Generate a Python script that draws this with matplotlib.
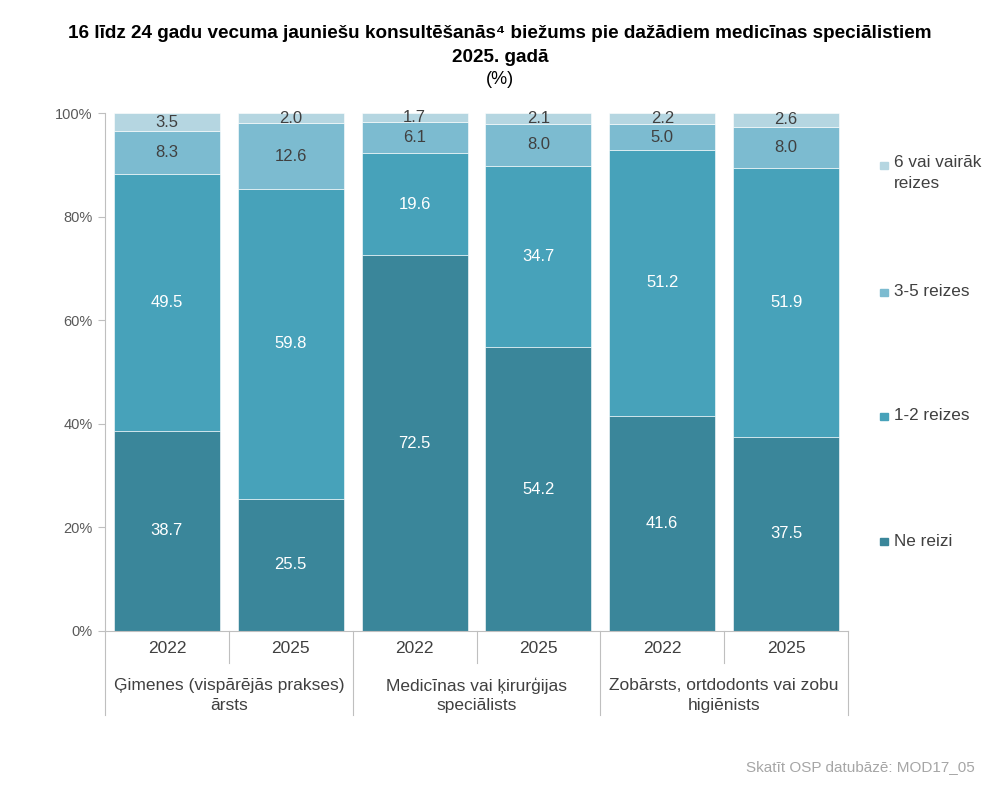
import matplotlib
matplotlib.use("Agg")
import numpy as np
import matplotlib.pyplot as plt
from matplotlib.lines import Line2D
from matplotlib.patches import Rectangle

plt.rcParams['font.family'] = ['Liberation Sans', 'DejaVu Sans']

# data
groups = ["Ģimenes (vispārējās prakses)\nārsts",
          "Medicīnas vai ķirurģijas\nspeciālists",
          "Zobārsts, ortdodonts vai zobu\nhigiēnists"]
years = ["2022", "2025"]
series_names = ["Ne reizi", "1-2 reizes", "3-5 reizes", "6 vai vairāk\nreizes"]
ne_reizi = [38.7, 25.5, 72.5, 54.2, 41.6, 37.5]
reizes_1_2 = [49.5, 59.8, 19.6, 34.7, 51.2, 51.9]
reizes_3_5 = [8.3, 12.6, 6.1, 8.0, 5.0, 8.0]
reizes_6 = [3.5, 2.0, 1.7, 2.1, 2.2, 2.6]

colors = ["#3a869a", "#47a2ba", "#7cbbd0", "#b5d6e1"]
label_colors = ["white", "white", "#404040", "#404040"]

fig = plt.figure(figsize=(10, 7.85), dpi=100)
ax = fig.add_axes([0.105, 0.1962, 0.743, 0.6598])

series = [np.array(s) for s in (ne_reizi, reizes_1_2, reizes_3_5, reizes_6)]
totals = sum(series)  # 100% stacked: each bar scaled to its own total
x = np.arange(len(ne_reizi))
bottom = np.zeros(len(x))
for vals, col, lc in zip(series, colors, label_colors):
    h = vals / totals * 100
    ax.bar(x, h, bottom=bottom, width=0.855, color=col, edgecolor="white", linewidth=0.4)
    for xi, b, hh, v in zip(x, bottom, h, vals):
        ax.text(xi, b + hh / 2, f"{v:.1f}", ha="center", va="center",
                fontsize=12, color=lc)
    bottom += h

ax.set_xlim(-0.5, len(x) - 0.5)
ax.set_ylim(0, 100)
ax.set_yticks(np.arange(0, 101, 20))
ax.set_yticklabels([f"{t}%" for t in range(0, 101, 20)], fontsize=10.5, color="#595959")
ax.tick_params(axis="y", length=5, color="#bfbfbf", width=0.8, pad=4)
ax.set_xticks([])
for s in ["top", "right"]:
    ax.spines[s].set_visible(False)
ax.spines["left"].set_color("#bfbfbf")
ax.spines["bottom"].set_color("#bfbfbf")

# category axis (two levels)
trans = ax.get_xaxis_transform()
yr_row = -0.062
grp_row = -0.162
for i in range(len(x)):
    ax.text(x[i], yr_row / 2 - 0.002, years[i % 2], transform=trans, ha="center", va="center",
            fontsize=12.5, color="#404040")
for i in range(len(x) + 1):
    xs = i - 0.5
    y_end = grp_row if i % 2 == 0 else yr_row
    ax.add_line(Line2D([xs, xs], [0, y_end], transform=trans, color="#bfbfbf",
                       linewidth=0.8, clip_on=False))
for g, name in enumerate(groups):
    ax.text(2 * g + 0.5, (yr_row + grp_row) / 2 - 0.012, name, transform=trans, ha="center",
            va="center", fontsize=12.5, color="#404040", linespacing=1.4)

# legend
leg_y = [541, 416, 292, 165]
for name, col, yy in zip(series_names, colors, leg_y):
    yf = 1 - yy / 785
    fig.patches.append(Rectangle((0.880, yf - 0.0055), 0.0075, 0.0095, transform=fig.transFigure,
                                 color=col))
    if "\n" in name:
        fig.text(0.894, yf + 0.0125, name, ha="left", va="top", fontsize=12.3,
                 color="#404040", linespacing=1.45)
    else:
        fig.text(0.894, yf, name, ha="left", va="center", fontsize=12.3, color="#404040")

# title
fig.text(0.5, 1 - 34 / 785, "16 līdz 24 gadu vecuma jauniešu konsultēšanās⁴ biežums pie dažādiem medicīnas speciālistiem",
         ha="center", va="center", fontsize=13.6, fontweight="bold", color="black")
fig.text(0.5, 1 - 57 / 785, "2025. gadā", ha="center", va="center", fontsize=13.6,
         fontweight="bold", color="black")
fig.text(0.5, 1 - 79 / 785, "(%)", ha="center", va="center", fontsize=13, color="black")

fig.text(0.975, 1 - 767 / 785, "Skatīt OSP datubāzē: MOD17_05", ha="right", va="center",
         fontsize=11, color="#a6a6a6")

fig.savefig("out.png", dpi=100)
